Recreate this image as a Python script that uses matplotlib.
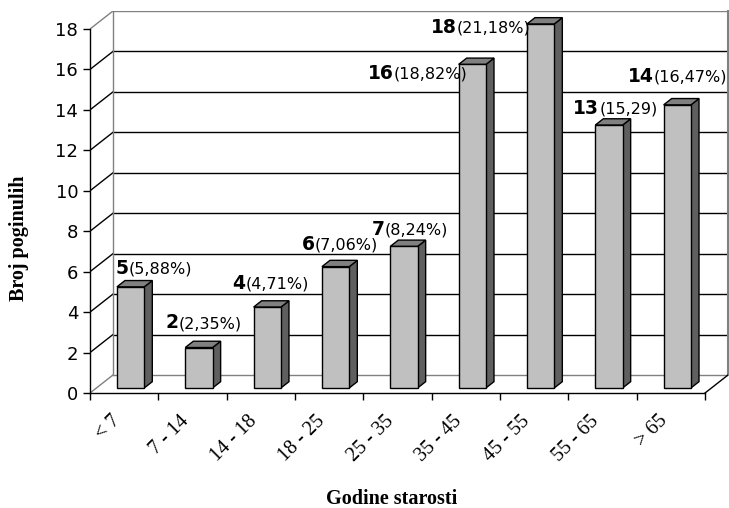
import matplotlib
matplotlib.use("Agg")
import matplotlib.pyplot as plt
from matplotlib.patches import Polygon
from matplotlib.transforms import offset_copy

# ---- data ----
categories = ['< 7', '7 - 14', '14 - 18', '18 - 25', '25 - 35',
              '35 - 45', '45 - 55', '55 - 65', '> 65']
counts = [5, 2, 4, 6, 7, 16, 18, 13, 14]
percent_labels = ['(5,88%)', '(2,35%)', '(4,71%)', '(7,06%)', '(8,24%)',
                  '(18,82%)', '(21,18%)', '(15,29)', '(16,47%)']

# label placement (offset from bar, in category / value units)
lab_dx = [0.436, 0.167, 0.146, 0.155, 0.178, -0.705, -0.784, 0.19, 0.096]
lab_dy = [1.19, 1.51, 1.45, 1.38, 1.12, -0.16, 0.12, 1.11, 1.69]

# ---- 3D geometry ----
DX, DY = 0.336, 0.89          # full depth offset of the walls
D0, D1 = 0.28, 0.63           # bar front / back depth fraction
BAR_W = 0.40
GRAY = '#808080'
FRONT, SIDE, TOP = '#C0C0C0', '#5F5F5F', '#808080'

W, H = 729, 508
fig = plt.figure(figsize=(W / 100, H / 100), dpi=100)
ax = fig.add_axes([90 / W, (H - 393) / H, 638 / W, 382 / H])
n = len(categories)
ax.set_xlim(-0.5, n - 0.5 + DX)
ax.set_ylim(0, 18 + DY)
ax.patch.set_alpha(0)

for s in ['top', 'right']:
    ax.spines[s].set_visible(False)
ax.spines['left'].set_bounds(0, 18)
ax.spines['bottom'].set_bounds(-0.5, n - 0.5)
for s in ['left', 'bottom']:
    ax.spines[s].set_linewidth(1.0)

# y axis
ax.set_yticks(range(0, 19, 2))
ax.tick_params(axis='y', length=5, width=1.0, pad=3.5, labelsize=13)

# x axis: ticks at boundaries, labels at centres
ax.set_xticks([i - 0.5 for i in range(n + 1)])
ax.set_xticklabels([])
ax.tick_params(axis='x', which='major', length=5, width=1.0)
ax.set_xticks(range(n), minor=True)
ax.set_xticklabels(categories, minor=True)
ax.tick_params(axis='x', which='minor', length=0, pad=13.5,
               labelsize=14.5, labelrotation=45,
               labelfontfamily='Liberation Serif')
for t in ax.get_xticklabels(minor=True):
    t.set_ha('right')

# ---- walls ----
xl, xr = -0.5, n - 0.5
for v in range(0, 19, 2):
    c = GRAY if v in (0, 18) else 'black'
    ax.plot([xl, xl + DX], [v, v + DY], color=c, lw=1.0, zorder=1)
    ax.plot([xl + DX, xr + DX], [v + DY, v + DY], color=c, lw=1.0, zorder=1)
ax.plot([xl + DX, xl + DX], [DY, 18 + DY], color=GRAY, lw=1.0, zorder=1)
ax.plot([xr + DX, xr + DX], [DY, 18 + DY], color=GRAY, lw=1.5, zorder=1,
        clip_on=False)
ax.plot([xr, xr + DX], [0, DY], color='black', lw=1.0, zorder=1)

# ---- bars ----
bdx, bdy = (D1 - D0) * DX, (D1 - D0) * DY
for i, v in enumerate(counts):
    x0 = i + D0 * DX - BAR_W / 2
    x1 = x0 + BAR_W
    y0 = D0 * DY
    y1 = v + D0 * DY
    front = Polygon([(x0, y0), (x1, y0), (x1, y1), (x0, y1)],
                    facecolor=FRONT, edgecolor='black', lw=1.0, zorder=3)
    side = Polygon([(x1, y0), (x1 + bdx, y0 + bdy), (x1 + bdx, y1 + bdy),
                    (x1, y1)],
                   facecolor=SIDE, edgecolor='black', lw=1.0, zorder=3)
    top = Polygon([(x0, y1), (x1, y1), (x1 + bdx, y1 + bdy),
                   (x0 + bdx, y1 + bdy)],
                  facecolor=TOP, edgecolor='black', lw=1.0, zorder=3)
    for p in (side, top, front):
        ax.add_patch(p)

# ---- value labels: bold count + normal percentage, centred together ----
renderer = fig.canvas.get_renderer()
for i, (v, pct) in enumerate(zip(counts, percent_labels)):
    lx = i + lab_dx[i]
    ly = v + lab_dy[i] - 0.3
    t1 = ax.text(lx, ly, str(v), fontsize=13.5, fontweight='bold',
                 ha='left', va='baseline', zorder=5)
    t2 = ax.text(lx, ly, pct, fontsize=11.5, ha='left', va='baseline',
                 zorder=5)
    w1 = t1.get_window_extent(renderer).width
    w2 = t2.get_window_extent(renderer).width
    half = (w1 + w2) / 2
    t1.set_transform(offset_copy(ax.transData, fig=fig, x=-half, y=0,
                                 units='dots'))
    t2.set_transform(offset_copy(ax.transData, fig=fig, x=w1 - half, y=0,
                                 units='dots'))

# ---- axis titles ----
fig.text(392 / W, 1 - 499 / H, 'Godine starosti', ha='center', va='center',
         family='Liberation Serif', fontweight='bold', fontsize=14.5)
fig.text(19 / W, 1 - 238 / H, 'Broj poginulih', ha='center', va='center',
         rotation=90, family='Liberation Serif', fontweight='bold',
         fontsize=14.5)

fig.savefig('out.png', dpi=100)
